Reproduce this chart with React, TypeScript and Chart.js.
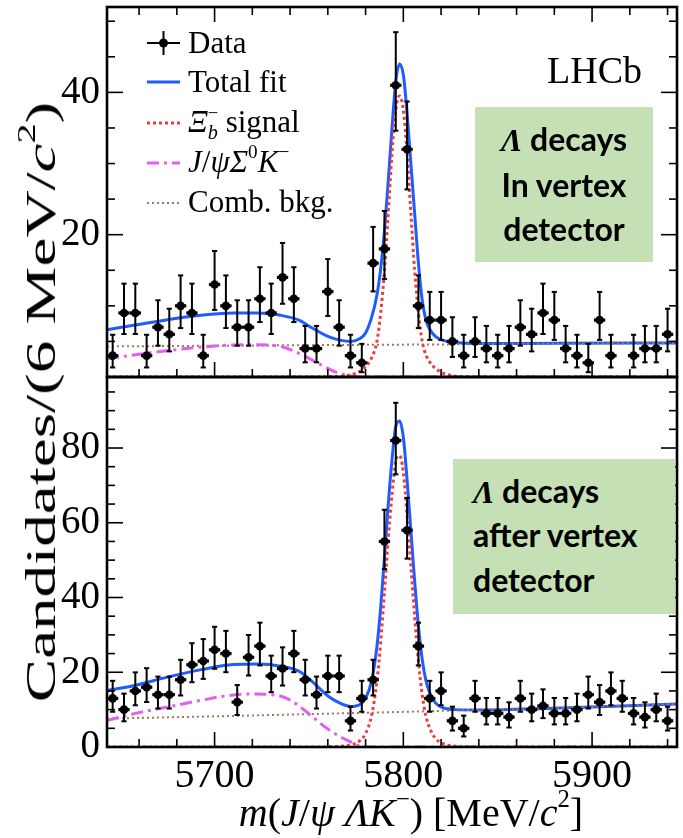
import React, { useEffect, useRef } from "react";
import { Chart, registerables } from "chart.js";

Chart.register(...registerables);

// ---------------- data ----------------
const binCenters = [
  5646, 5652, 5658, 5664, 5670, 5676, 5682, 5688, 5694, 5700,
  5706, 5712, 5718, 5724, 5730, 5736, 5742, 5748, 5754, 5760,
  5766, 5772, 5778, 5784, 5790, 5796, 5802, 5808, 5814, 5820,
  5826, 5832, 5838, 5844, 5850, 5856, 5862, 5868, 5874, 5880,
  5886, 5892, 5898, 5904, 5910, 5916, 5922, 5928, 5934, 5940,
];
const topCounts: (number | null)[] = [
  3, 9, 9, 3, 7, 6, 10, 9, 3, 13,
  10, 7, 7, 11, 9, 14, 11, 4, 4, 12,
  7, 3, 2, 16, 18, 41, 32, 10, 8, 8,
  5, 3, 5, 4, 3, 4, 7, 6, 9, 8,
  4, 3, 2, 8, 3, null, 3, 4, 4, 6,
];
const bottomCounts: (number | null)[] = [
  13, 10, 15, 16, 14, 14, 18, 22, 23, 26,
  25, 12, 24, 27, 19, 21, 25, 18, 14, 19,
  19, 7, 13, 18, 55, 82, 58, 27, 13, 15,
  7, 5, 13, 9, 9, 8, 13, 10, 11, 9,
  9, 10, 14, 12, 15, 13, 9, 8, 10, 7,
];

const fitMass = [
  5643, 5657, 5675, 5693, 5710, 5723, 5735, 5745, 5751, 5761,
  5767, 5772, 5777, 5780, 5783, 5786, 5788, 5790, 5792, 5794,
  5796, 5798, 5800, 5802, 5804, 5806, 5808, 5810, 5812, 5814,
  5817, 5821, 5828, 5840, 5880, 5945,
];
const topTotal = [
  6.65, 7.26, 8.06, 8.67, 9.0, 9.0, 8.67, 7.96, 7.0, 5.6,
  5.15, 5.0, 5.4, 6.2, 8.2, 11.5, 15.2, 20.5, 27.5, 35,
  41.5, 44.0, 42.5, 37, 30, 23, 16, 10.8, 8.0, 6.7,
  5.7, 5.15, 4.85, 4.72, 4.73, 4.78,
];
const topSignal = [
  0, 0, 0, 0, 0, 0, 0, 0, 0, 0.03,
  0.1, 0.3, 0.8, 1.45, 2.6, 5.0, 9.0, 15, 23, 31.5,
  37.5, 39.5, 37.5, 31.5, 23, 15, 9.0, 5.0, 3.1, 2.1,
  1.2, 0.55, 0.12, 0.01, 0, 0,
];
const topJpsiMass = [5643, 5660, 5680, 5700, 5720, 5735, 5745, 5755, 5765, 5772, 5778, 5785, 5945];
const topJpsi = [2.55, 3.2, 3.85, 4.35, 4.55, 4.3, 3.3, 1.9, 0.6, 0.15, 0, 0, 0];
const topCombMass = [5643, 5800, 5945];
const topComb = [4.3, 4.55, 4.75];

const bottomTotal = [
  15.1, 16.4, 18.7, 20.7, 22.05, 22.2, 21.6, 20.2, 17.8, 13.3,
  11.6, 10.85, 11.4, 13.0, 17.3, 26.8, 37.3, 50.8, 64.8, 76.8,
  85.8, 87.2, 82.9, 71.4, 57.9, 44.4, 32.4, 23.5, 17.7, 14.5,
  11.8, 10.5, 10.0, 9.9, 10.4, 11.5,
];
const bottomSignal = [
  0, 0, 0, 0, 0, 0, 0, 0, 0, 0.05,
  0.2, 0.55, 1.7, 3.6, 8.0, 17.5, 28, 41.5, 55.5, 67.5,
  76.5, 78, 73.5, 62, 48.5, 35, 23, 14, 8.2, 5.0,
  2.3, 0.9, 0.2, 0.02, 0, 0,
];
const bottomJpsiMass = [5643, 5660, 5675, 5693, 5705, 5719, 5730, 5737, 5745, 5751, 5761, 5772, 5778, 5785, 5945];
const bottomJpsi = [7.1, 9.2, 10.7, 12.5, 13.6, 14.2, 14.0, 13.3, 10.9, 8.45, 4.45, 1.35, 0.1, 0, 0];
const bottomCombMass = [5643, 5700, 5750, 5800, 5850, 5900, 5945];
const bottomComb = [7.6, 8.2, 8.8, 9.4, 10.1, 10.8, 11.5];

const massTicks = [5700, 5800, 5900];
const topYTicks = [20, 40];
const bottomYTicks = [0, 20, 40, 60, 80];

// ---------------- style / layout ----------------
const X_MIN = 5643;
const X_MAX = 5945;
const TOP_YMAX = 52;
const BOTTOM_YMAX = 99;
const SERIF = "'Liberation Serif', 'Times New Roman', serif";
const BLUE = "#1f5cff";
const RED = "#ef3b3b";
const MAGENTA = "#e25ff0";
const BROWN = "#a07a58";
const GREEN_BOX = "#c5e0b4";

const overlayPlugin = {
  id: "overlay",
  afterDatasetsDraw(chart: any) {
    const o = chart.options.plugins.overlay;
    if (!o) return;
    const ctx: CanvasRenderingContext2D = chart.ctx;
    const a = chart.chartArea;
    const xs = chart.scales.x;
    const ys = chart.scales.y;
    const seg = (x1: number, y1: number, x2: number, y2: number) => {
      ctx.beginPath();
      ctx.moveTo(x1, y1);
      ctx.lineTo(x2, y2);
      ctx.stroke();
    };
    ctx.save();
    ctx.strokeStyle = "#000";
    ctx.fillStyle = "#000";
    // error bars (Poisson intervals)
    (o.counts as (number | null)[]).forEach((n, i) => {
      if (n === null || n === undefined) return;
      const c = binCenters[i];
      const px = xs.getPixelForValue(c);
      const hi = n + 1 + Math.sqrt(n + 0.75);
      const lo = n > 0 ? n - Math.sqrt(n - 0.25) : 0;
      const yh = ys.getPixelForValue(hi);
      const yl = ys.getPixelForValue(lo);
      const yc = ys.getPixelForValue(n);
      ctx.lineWidth = 2;
      seg(px, yh, px, yl);
      seg(px - 2.6, yh, px + 2.6, yh);
      seg(px - 2.6, yl, px + 2.6, yl);
      ctx.lineWidth = 3.2;
      seg(xs.getPixelForValue(c - 3), yc, xs.getPixelForValue(c + 3), yc);
    });
    // ticks (inward)
    ctx.lineWidth = 1.6;
    for (let v = 5660; v <= 5940; v += 20) {
      const L = v % 100 === 0 ? 15 : 8;
      const px = xs.getPixelForValue(v);
      seg(px, a.bottom, px, a.bottom - L);
      if (o.topTicks) seg(px, a.top, px, a.top + L);
    }
    for (let v = 5; v < o.yMax; v += 5) {
      const L = v % 20 === 0 ? 16 : 8;
      const py = ys.getPixelForValue(v);
      seg(a.left, py, a.left + L, py);
      seg(a.right, py, a.right - L, py);
    }
    // frame
    ctx.lineWidth = 2.6;
    ctx.strokeRect(a.left, a.top, a.right - a.left, a.bottom - a.top);
    // legend symbols
    if (o.legend) {
      const x1 = 147;
      const x2 = 180;
      const xm = 163.5;
      ctx.lineWidth = 2;
      seg(x1, 43, x2, 43);
      seg(xm, 31, xm, 55);
      ctx.beginPath();
      ctx.arc(xm, 43, 4.5, 0, Math.PI * 2);
      ctx.fill();
      const lineSym = (y: number, color: string, w: number, dash: number[]) => {
        ctx.save();
        ctx.strokeStyle = color;
        ctx.lineWidth = w;
        ctx.setLineDash(dash);
        seg(x1, y, x2, y);
        ctx.restore();
      };
      lineSym(82, BLUE, 3, []);
      lineSym(123, RED, 3, [3, 3]);
      lineSym(163, MAGENTA, 3, [12, 5, 3, 5]);
      lineSym(203, BROWN, 2, [2, 3]);
    }
    ctx.restore();
  },
};

type PanelSpec = {
  counts: (number | null)[];
  total: number[];
  signal: number[];
  jpsiMass: number[];
  jpsi: number[];
  combMass: number[];
  comb: number[];
  yMax: number;
  yTicks: number[];
  padTop: number;
  xAxisH: number;
  showX: boolean;
  legend: boolean;
  topTicks: boolean;
};

const zeroPad = (s: any) => {
  s.paddingTop = 0;
  s.paddingBottom = 0;
  s.paddingLeft = 0;
  s.paddingRight = 0;
};

function buildConfig(p: PanelSpec): any {
  const pts = (xs: number[], ys: number[]) => xs.map((x, i) => ({ x, y: ys[i] }));
  const dataPts = binCenters
    .map((x, i) => ({ x, y: p.counts[i] }))
    .filter((d) => d.y !== null);
  const line = (data: any[], color: string, width: number, dash: number[], order: number) => ({
    data,
    showLine: true,
    borderColor: color,
    backgroundColor: color,
    borderWidth: width,
    borderDash: dash,
    borderCapStyle: "butt",
    pointRadius: 0,
    pointHoverRadius: 0,
    cubicInterpolationMode: "monotone",
    fill: false,
    order,
  });
  return {
    type: "scatter",
    data: {
      datasets: [
        {
          data: dataPts,
          pointRadius: 4.3,
          pointHoverRadius: 4.3,
          pointBackgroundColor: "#000",
          pointBorderColor: "#000",
          pointBorderWidth: 0,
          order: 0,
        },
        line(pts(fitMass, p.total), BLUE, 3, [], 4),
        line(pts(p.combMass, p.comb), BROWN, 2, [2, 3], 3),
        line(pts(p.jpsiMass, p.jpsi), MAGENTA, 3, [12, 5, 3, 5], 2),
        line(pts(fitMass, p.signal), RED, 3, [3, 3], 1),
      ],
    },
    options: {
      responsive: false,
      maintainAspectRatio: false,
      animation: false,
      events: [],
      layout: { padding: { left: 0, right: 6, top: p.padTop, bottom: 0 }, autoPadding: false },
      plugins: {
        legend: { display: false },
        tooltip: { enabled: false },
        overlay: { counts: p.counts, yMax: p.yMax, legend: p.legend, topTicks: p.topTicks },
      },
      scales: {
        x: {
          type: "linear",
          min: X_MIN,
          max: X_MAX,
          grid: { display: false, drawTicks: false },
          border: { display: false },
          afterBuildTicks: (s: any) => {
            s.ticks = massTicks.map((v) => ({ value: v }));
          },
          ticks: {
            display: p.showX,
            font: { family: SERIF, size: 40 },
            color: "#000",
            padding: 5,
            maxRotation: 0,
            autoSkip: false,
            callback: (v: any) => String(v),
          },
          afterFit: (s: any) => {
            s.height = p.xAxisH;
            zeroPad(s);
          },
        },
        y: {
          type: "linear",
          min: 0,
          max: p.yMax,
          grid: { display: false, drawTicks: false },
          border: { display: false },
          afterBuildTicks: (s: any) => {
            s.ticks = p.yTicks.map((v) => ({ value: v }));
          },
          ticks: {
            font: { family: SERIF, size: 39 },
            color: "#000",
            padding: 7,
            callback: (v: any) => String(v),
          },
          afterFit: (s: any) => {
            s.width = 107;
            zeroPad(s);
          },
        },
      },
    },
    plugins: [overlayPlugin],
  };
}

// text positioned by its baseline (line-height = font size)
function Txt(props: {
  x: number;
  baseline: number;
  size: number;
  family?: string;
  weight?: number | string;
  asc?: number;
  align?: "left" | "center";
  width?: number;
  children: React.ReactNode;
}) {
  const asc = props.asc ?? 0.8375;
  const top = props.baseline - asc * props.size;
  const style: React.CSSProperties = {
    position: "absolute",
    top,
    fontFamily: props.family ?? SERIF,
    fontSize: props.size,
    lineHeight: `${props.size}px`,
    fontWeight: props.weight ?? "normal",
    whiteSpace: "nowrap",
    color: "#000",
  };
  if (props.align === "center") {
    const w = props.width ?? 400;
    style.left = props.x - w / 2;
    style.width = w;
    style.textAlign = "center";
  } else {
    style.left = props.x;
  }
  return <div style={style}>{props.children}</div>;
}

const Sup = (p: { children: React.ReactNode; up?: number; size?: number }) => (
  <span style={{ position: "relative", top: `-${p.up ?? 0.75}em`, fontSize: `${p.size ?? 0.62}em` }}>{p.children}</span>
);

const LAMBDA = (
  <span style={{ fontFamily: SERIF, fontStyle: "italic", fontWeight: "bold" }}>Λ</span>
);

export default function App() {
  const topRef = useRef<HTMLCanvasElement>(null);
  const botRef = useRef<HTMLCanvasElement>(null);

  useEffect(() => {
    const c1 = new Chart(
      topRef.current as HTMLCanvasElement,
      buildConfig({
        counts: topCounts,
        total: topTotal,
        signal: topSignal,
        jpsiMass: topJpsiMass,
        jpsi: topJpsi,
        combMass: topCombMass,
        comb: topComb,
        yMax: TOP_YMAX,
        yTicks: topYTicks,
        padTop: 7,
        xAxisH: 13,
        showX: false,
        legend: true,
        topTicks: true,
      })
    );
    const c2 = new Chart(
      botRef.current as HTMLCanvasElement,
      buildConfig({
        counts: bottomCounts,
        total: bottomTotal,
        signal: bottomSignal,
        jpsiMass: bottomJpsiMass,
        jpsi: bottomJpsi,
        combMass: bottomCombMass,
        comb: bottomComb,
        yMax: BOTTOM_YMAX,
        yTicks: bottomYTicks,
        padTop: 7,
        xAxisH: 91,
        showX: true,
        legend: false,
        topTicks: false,
      })
    );
    return () => {
      c1.destroy();
      c2.destroy();
    };
  }, []);

  const LATO = "Lato, 'Open Sans', sans-serif";
  const boxFont = 32;
  const latoAsc = 0.887;

  return (
    <div
      style={{
        position: "absolute",
        left: 0,
        top: 0,
        width: 683,
        height: 838,
        overflow: "hidden",
        background: "#fff",
        fontFamily: SERIF,
      }}
    >
      <canvas ref={topRef} width={683} height={390} style={{ position: "absolute", left: 0, top: 0 }} />
      <canvas ref={botRef} width={683} height={468} style={{ position: "absolute", left: 0, top: 370 }} />

      {/* legend text */}
      <Txt x={188} baseline={53} size={31}>Data</Txt>
      <Txt x={188} baseline={92} size={31}>Total fit</Txt>
      <Txt x={188} baseline={132} size={31}>
        <i>Ξ</i>
        <span style={{ position: "relative", top: "-0.7em", fontSize: "0.6em" }}>−</span>
        <span style={{ position: "relative", top: "0.35em", fontSize: "0.65em", marginLeft: "-0.52em", fontStyle: "italic" }}>b</span>
        {" signal"}
      </Txt>
      <Txt x={188} baseline={172} size={31}>
        <i>J</i>/<i>ψ</i>
        <i>Σ</i>
        <Sup>0</Sup>
        <i>K</i>
        <Sup>−</Sup>
      </Txt>
      <Txt x={188} baseline={212} size={31}>Comb. bkg.</Txt>

      {/* LHCb label */}
      <Txt x={547} baseline={83} size={38}>LHCb</Txt>

      {/* top green box */}
      <div style={{ position: "absolute", left: 475, top: 107, width: 178, height: 155, background: GREEN_BOX }} />
      <Txt x={564} baseline={151} size={boxFont} family={LATO} weight="bold" asc={latoAsc} align="center">
        {LAMBDA} decays
      </Txt>
      <Txt x={564} baseline={197} size={boxFont} family={LATO} weight="bold" asc={latoAsc} align="center">
        In vertex
      </Txt>
      <Txt x={564} baseline={241} size={boxFont} family={LATO} weight="bold" asc={latoAsc} align="center">
        detector
      </Txt>

      {/* bottom green box */}
      <div style={{ position: "absolute", left: 453, top: 459, width: 222, height: 155, background: GREEN_BOX }} />
      <Txt x={473} baseline={503} size={boxFont} family={LATO} weight="bold" asc={latoAsc}>
        {LAMBDA} decays
      </Txt>
      <Txt x={473} baseline={547} size={boxFont} family={LATO} weight="bold" asc={latoAsc}>
        after vertex
      </Txt>
      <Txt x={473} baseline={592} size={boxFont} family={LATO} weight="bold" asc={latoAsc}>
        detector
      </Txt>

      {/* x axis title */}
      <Txt x={411} baseline={826} size={40} align="center" width={600}>
        <i>m</i>(<i>J</i>/<i>ψ</i> <i>Λ</i>
        <i>K</i>
        <Sup>−</Sup>) [MeV/<i>c</i>
        <Sup>2</Sup>]
      </Txt>

      {/* y axis title */}
      <div
        style={{
          position: "absolute",
          left: 44,
          top: 402,
          transform: "translate(-50%, -50%) rotate(-90deg) scale(1.55, 1)",
          fontFamily: SERIF,
          fontSize: 42,
          lineHeight: "42px",
          whiteSpace: "nowrap",
          color: "#000",
        }}
      >
        Candidates/(6 MeV/<i>c</i>
        <Sup>2</Sup>)
      </div>
    </div>
  );
}
